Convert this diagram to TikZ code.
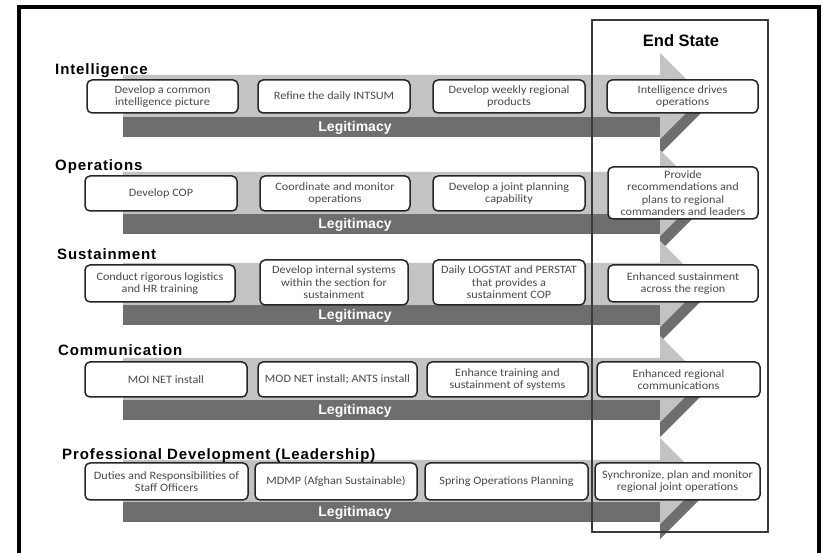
\documentclass[tikz,border=0pt]{standalone}
\usepackage{fontspec}
\setmainfont{Carlito}[FakeStretch=1.08]
\newfontfamily\hfont{Liberation Sans}
\newfontfamily\tfont{Liberation Sans}[LetterSpace=6]
\definecolor{lightband}{HTML}{C3C3C3}
\definecolor{darkband}{HTML}{6E6E6E}
\definecolor{boxtext}{HTML}{4A4A4A}
\definecolor{framegray}{HTML}{3A3A3A}
\newcommand\boxnode[6]{%
  \node[pbox, minimum width={#3pt-#2pt}, minimum height={#5pt-#4pt}] (#1) at ({(#2+#3)/2},{(#4+#5)/2}) {#6};}
\begin{document}
\begin{tikzpicture}[x=1pt,y=-1pt,
  pbox/.style={draw=black!85, line width=1.5pt, rounded corners=5pt, fill=white,
    align=center, inner sep=1pt, text=boxtext, font=\fontsize{11.3}{12.5}\selectfont},
  rowtitle/.style={anchor=base west, inner sep=0pt, font=\tfont\bfseries\fontsize{15}{18}\selectfont},
  legit/.style={anchor=base, inner sep=0pt, text=white, font=\hfont\bfseries\fontsize{14}{16}\selectfont},
  lightarrow/.style={fill=lightband, draw=none},
  darkarrow/.style={fill=darkband, draw=none}]
\useasboundingbox (0,0) rectangle (823,553);
\fill[white] (0,0) rectangle (823,553);
% outer frame
\draw[line width=4pt] (19,553) -- (19,7) -- (819,7) -- (819,553);
% arrows
\foreach \yc/\nm in {96/a,193/b,284/c,379/d,481/e}{
  \fill[darkarrow] (123,\yc) -- (660,\yc) -- (660,{\yc-28}) -- (703,{\yc+15}) -- (660,{\yc+58}) -- (660,{\yc+41}) -- (123,{\yc+41}) -- cycle;
  \fill[lightarrow] (123,{\yc-21}) -- (660,{\yc-21}) -- (660,{\yc-43}) -- (703,\yc) -- (660,{\yc+43}) -- (660,{\yc+21}) -- (123,{\yc+21}) -- cycle;
  \node[legit] (leg\nm) at (355,{\yc+36}) {Legitimacy};
}
% end state frame
\draw[framegray, line width=1.5pt] (592,20) rectangle (768,532);
\node[anchor=base, inner sep=0pt, font=\hfont\bfseries\fontsize{16.5}{19}\selectfont] (endstate) at (681,47) {End State};
% row titles
\node[rowtitle] (t1) at (55,75) {Intelligence};
\node[rowtitle] (t2) at (55,171) {Operations};
\node[rowtitle] (t3) at (57,260) {Sustainment};
\node[rowtitle] (t4) at (58,356) {Communication};
\node[rowtitle] (t5) at (62,460) {Professional Development (Leadership)};
% row 1
\boxnode{a1}{87}{238}{80}{113}{Develop a common\\intelligence picture}
\boxnode{a2}{258}{410}{80}{113}{Refine the daily INTSUM}
\boxnode{a3}{433}{585}{80}{113}{Develop weekly regional\\products}
\boxnode{a4}{607}{758}{80}{113}{Intelligence drives\\operations}
% row 2
\boxnode{b1}{85}{237}{176}{211}{Develop COP}
\boxnode{b2}{260}{410}{176}{211}{Coordinate and monitor\\operations}
\boxnode{b3}{433}{585}{176}{211}{Develop a joint planning\\capability}
\boxnode{b4}{608}{758}{167}{219}{Provide\\recommendations and\\plans to regional\\commanders and leaders}
% row 3
\boxnode{c1}{85}{235}{265}{302}{Conduct rigorous logistics\\and HR training}
\boxnode{c2}{260}{408}{260}{305}{Develop internal systems\\within the section for\\sustainment}
\boxnode{c3}{433}{585}{260}{305}{Daily LOGSTAT and PERSTAT\\that provides a\\sustainment COP}
\boxnode{c4}{608}{758}{265}{302}{Enhanced sustainment\\across the region}
% row 4
\boxnode{d1}{85}{247}{362}{397}{MOI NET install}
\boxnode{d2}{258}{417}{362}{397}{MOD NET install; ANTS install}
\boxnode{d3}{427}{588}{362}{397}{Enhance training and\\sustainment of systems}
\boxnode{d4}{597}{760}{362}{397}{Enhanced regional\\communications}
% row 5
\boxnode{e1}{85}{248}{463}{500}{Duties and Responsibilities of\\Staff Officers}
\boxnode{e2}{255}{417}{463}{500}{MDMP (Afghan Sustainable)}
\boxnode{e3}{425}{588}{463}{500}{Spring Operations Planning}
\boxnode{e4}{595}{760}{463}{500}{Synchronize, plan and monitor\\regional joint operations}
\end{tikzpicture}
\end{document}
